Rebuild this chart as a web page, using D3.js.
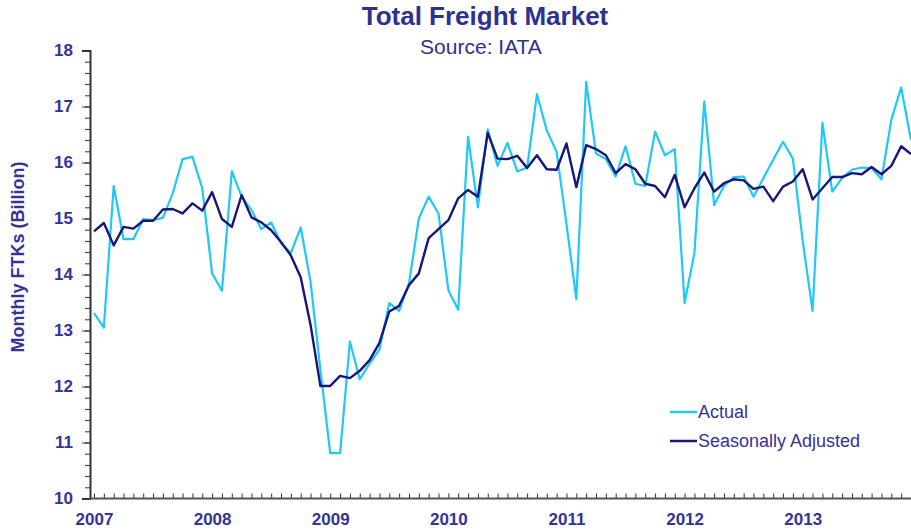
<!DOCTYPE html>
<html>
<head>
<meta charset="utf-8">
<script src="https://cdn.jsdelivr.net/npm/d3@7"></script>
<style>
  body { margin: 0; background: #fff; }
  svg { display: block; }
</style>
</head>
<body>
<svg class="chart"></svg>
<script>
// years on the axis, one point per month from Jan 2007 to Dec 2013
let years = [2007, 2008, 2009, 2010, 2011, 2012, 2013];
let months = [];
years.forEach(function(yr) {
  for (let m = 0; m < 12; m++) months.push({ year: yr, month: m });
});

let actual = [
  13.31, 13.05, 15.58, 14.63, 14.63, 14.99, 14.97, 15.01, 15.45, 16.06, 16.10, 15.54,
  14.02, 13.71, 15.84, 15.39, 15.15, 14.81, 14.93, 14.56, 14.38, 14.84, 13.87, 12.30,
  10.81, 10.81, 12.80, 12.13, 12.41, 12.66, 13.49, 13.35, 13.84, 15.00, 15.39, 15.09,
  13.72, 13.37, 16.46, 15.20, 16.59, 15.94, 16.35, 15.84, 15.91, 17.22, 16.57, 16.19,
  14.90, 13.56, 17.44, 16.16, 16.06, 15.75, 16.29, 15.62, 15.58, 16.55, 16.13, 16.24,
  13.49, 14.39, 17.09, 15.24, 15.58, 15.74, 15.75, 15.39, 15.72, 16.05, 16.37, 16.07,
  14.60, 13.35, 16.71, 15.48, 15.72, 15.87, 15.91, 15.90, 15.70, 16.76, 17.34, 16.40
];

let adjusted = [
  14.77, 14.92, 14.52, 14.85, 14.82, 14.96, 14.96, 15.16, 15.17, 15.09, 15.27, 15.14,
  15.47, 14.99, 14.85, 15.42, 15.02, 14.93, 14.79, 14.58, 14.34, 13.95, 13.10, 12.01,
  12.01, 12.19, 12.15, 12.28, 12.47, 12.78, 13.34, 13.44, 13.81, 14.02, 14.65, 14.81,
  14.97, 15.36, 15.51, 15.39, 16.53, 16.07, 16.06, 16.12, 15.90, 16.13, 15.88, 15.87,
  16.34, 15.56, 16.31, 16.24, 16.13, 15.81, 15.97, 15.88, 15.62, 15.58, 15.38, 15.78,
  15.20, 15.54, 15.82, 15.48, 15.63, 15.70, 15.68, 15.53, 15.57, 15.31, 15.57, 15.66,
  15.88, 15.34, 15.54, 15.74, 15.74, 15.81, 15.79, 15.92, 15.79, 15.94, 16.29, 16.15
];

let yTicks = [10, 11, 12, 13, 14, 15, 16, 17, 18];

let width  = 911;
let height = 530;
let textColor = "#333399";
let svg = d3.select(".chart").attr("width", width).attr("height", height)
  .style("font-family", "Arial, 'Liberation Sans', sans-serif");

let axisX = 90;
let x = d3.scaleLinear().domain([0, months.length - 1]).range([94, 911]);
let y = d3.scaleLinear().domain([10, 18]).range([498.5, 50.5]);

// titles
svg.append("text")
  .attr("x", 485).attr("y", 25)
  .attr("text-anchor", "middle")
  .attr("fill", "#2e3192")
  .style("font-weight", "bold")
  .style("font-size", "26px")
  .text("Total Freight Market");

svg.append("text")
  .attr("x", 481).attr("y", 54)
  .attr("text-anchor", "middle")
  .attr("fill", "#2e3192")
  .style("font-size", "21px")
  .text("Source: IATA");

// y axis: minor ticks every 0.2, major ticks with labels
let minorY = d3.range(10, 18.001, 0.2);
svg.append("g")
  .attr("transform", "translate(" + axisX + ",0)")
  .call(d3.axisLeft(y).tickValues(minorY).tickSize(5).tickFormat(""))
  .call(function(g) { g.select(".domain").remove(); })
  .selectAll("line").attr("stroke", "#333");

let yAxis = svg.append("g")
  .attr("transform", "translate(" + axisX + ",0)")
  .call(d3.axisLeft(y).tickValues(yTicks).tickSize(8).tickPadding(9).tickFormat(d3.format("d")));
yAxis.select(".domain").attr("stroke", "#333").attr("stroke-width", 2);
yAxis.selectAll("line").attr("stroke", "#333");
yAxis.selectAll("text")
  .attr("fill", textColor)
  .style("font-size", "17px")
  .style("font-weight", "bold");

svg.append("text")
  .attr("transform", "translate(24," + 257 + ") rotate(-90)")
  .attr("text-anchor", "middle")
  .attr("fill", textColor)
  .style("font-size", "18px")
  .style("font-weight", "bold")
  .text("Monthly FTKs (Billion)");

// x axis: a tick every month pointing up, year labels under January
let xAxis = svg.append("g")
  .attr("transform", "translate(0," + y(10) + ")")
  .call(d3.axisBottom(x).tickValues(d3.range(months.length)).tickSize(-5).tickSizeOuter(0).tickFormat(""));
xAxis.select(".domain").remove();
xAxis.selectAll("line").attr("stroke", "#333");

svg.append("line")
  .attr("x1", axisX - 1).attr("x2", width)
  .attr("y1", y(10)).attr("y2", y(10))
  .attr("stroke", "#555").attr("stroke-width", 2);

let janIdx = months.map(function(d, i) { return d.month === 0 ? i : -1; })
  .filter(function(i) { return i >= 0; });
let xLabels = svg.append("g")
  .attr("transform", "translate(0," + y(10) + ")")
  .call(d3.axisBottom(x).tickValues(janIdx).tickSize(0).tickPadding(14)
    .tickFormat(function(i) { return months[i].year; }));
xLabels.select(".domain").remove();
xLabels.selectAll("text")
  .attr("fill", textColor)
  .style("font-size", "17px")
  .style("font-weight", "bold");

// lines
let line = d3.line()
  .x(function(d, i) { return x(i); })
  .y(function(d) { return y(d); });

svg.append("path")
  .attr("fill", "none")
  .attr("stroke", "#1ec8f8")
  .attr("stroke-width", 2.2)
  .attr("stroke-linejoin", "round")
  .attr("d", line(actual));

svg.append("path")
  .attr("fill", "none")
  .attr("stroke", "#17177a")
  .attr("stroke-width", 2.4)
  .attr("stroke-linejoin", "round")
  .attr("d", line(adjusted));

// legend
let legend = [
  { name: "Actual", color: "#1ec8f8", y: 412 },
  { name: "Seasonally Adjusted", color: "#17177a", y: 441 }
];
let lg = svg.append("g");
legend.forEach(function(d) {
  lg.append("line")
    .attr("x1", 670).attr("x2", 697)
    .attr("y1", d.y).attr("y2", d.y)
    .attr("stroke", d.color).attr("stroke-width", 2.5);
  lg.append("text")
    .attr("x", 698).attr("y", d.y + 6)
    .attr("fill", textColor)
    .style("font-size", "18px")
    .text(d.name);
});
</script>
</body>
</html>
